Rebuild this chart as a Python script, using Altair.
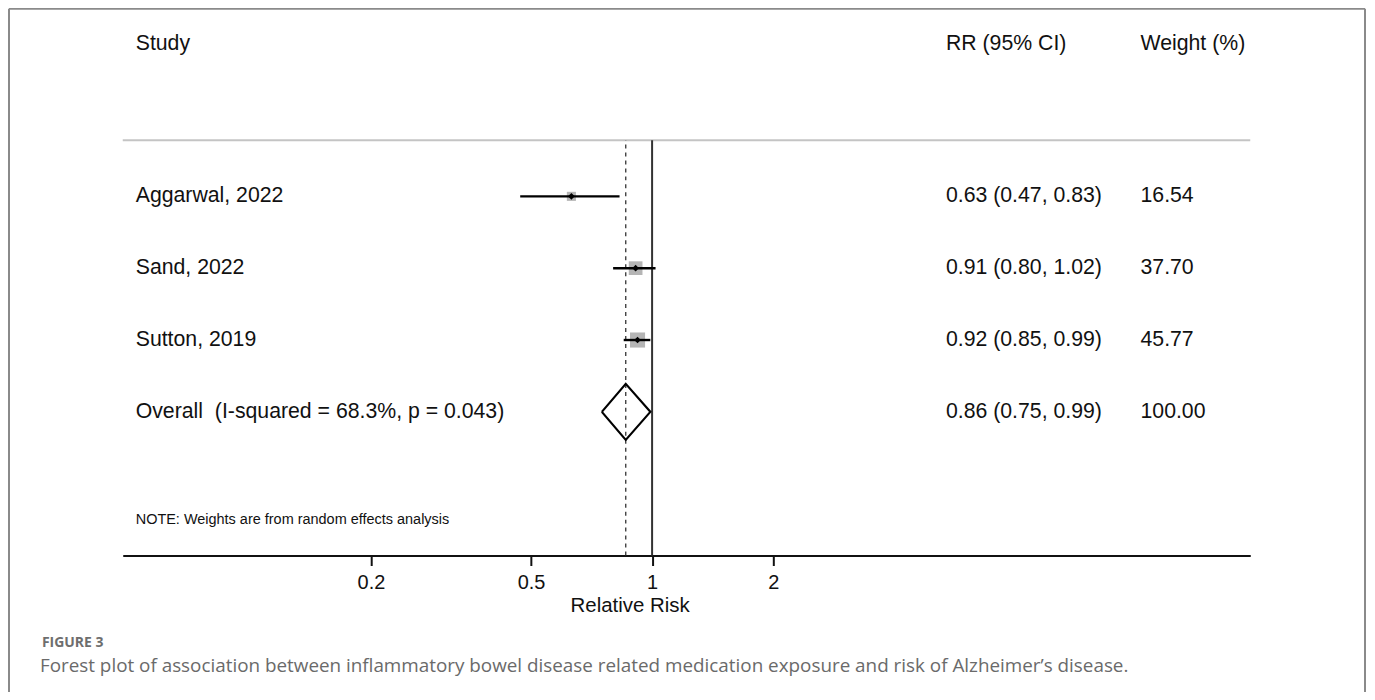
import altair as alt
import pandas as pd

# ---- data ----
studies = ["Aggarwal, 2022", "Sand, 2022", "Sutton, 2019"]
rr = [0.63, 0.91, 0.92]
ci_lo = [0.47, 0.80, 0.85]
ci_hi = [0.83, 1.02, 0.99]
weights = [16.54, 37.70, 45.77]
rows = [5, 4, 3]

overall_label = "Overall\u00a0 (I-squared = 68.3%, p = 0.043)"
overall_rr, overall_lo, overall_hi, overall_w = 0.86, 0.75, 0.99, 100.00
overall_row = 2

tick_values = [0.2, 0.5, 1, 2]
headers = ["Study", "RR (95% CI)", "Weight (%)"]
note = "NOTE: Weights are from random effects analysis"
fig_label = "FIGURE 3"
caption = ("Forest plot of association between inflammatory bowel disease related "
           "medication exposure and risk of Alzheimer\u2019s disease.")

# ---- layout ----
W, H = 1130, 540
TOP_LINE = 5.78
NOTE_ROW = 0.5
DIAMOND_HALF = 0.39
FONT = "Liberation Sans"
FS = 21.3
COL_STUDY, COL_RR, COL_W = 13, 825, 1020

xscale = alt.Scale(type="log", domain=[0.0483, 30.7], nice=False)
yscale = alt.Scale(domain=[0, 7.5], nice=False, zero=False)
xaxis = alt.Axis(values=tick_values, format="~g", grid=False,
                 labelFont=FONT, labelFontSize=20, labelColor="#111111",
                 labelPadding=7, labelFlush=False,
                 tickSize=10, tickWidth=2, tickColor="#111111",
                 domainColor="#111111", domainWidth=2,
                 titleFont=FONT, titleFontSize=20.5, titleFontWeight="normal",
                 titleColor="#111111", titleX=508, titleY=40,
                 titleAlign="center", titleBaseline="top")


def X(field):
    return alt.X(field, type="quantitative", scale=xscale, axis=xaxis,
                 title="Relative Risk")


def Y(field):
    return alt.Y(field, type="quantitative", scale=yscale, axis=None)


df = pd.DataFrame({
    "study": studies, "rr": rr, "lo": ci_lo, "hi": ci_hi,
    "w": weights, "row": rows,
})
df["rr_text"] = [f"{a:.2f} ({b:.2f}, {c:.2f})" for a, b, c in zip(rr, ci_lo, ci_hi)]
df["w_text"] = [f"{w:.2f}" for w in weights]

ov = pd.DataFrame({
    "study": [overall_label], "row": [overall_row],
    "rr_text": [f"{overall_rr:.2f} ({overall_lo:.2f}, {overall_hi:.2f})"],
    "w_text": [f"{overall_w:.2f}"],
})
labels_df = pd.concat([df[["study", "row", "rr_text", "w_text"]], ov], ignore_index=True)

diamond = pd.DataFrame({
    "x": [overall_lo, overall_rr, overall_hi, overall_rr, overall_lo],
    "y": [overall_row, overall_row + DIAMOND_HALF, overall_row,
          overall_row - DIAMOND_HALF, overall_row],
    "o": [0, 1, 2, 3, 4],
})

refs = pd.DataFrame({"x": [1.0], "y0": [0], "y1": [TOP_LINE]})
dash = pd.DataFrame({"x": [overall_rr], "y0": [0], "y1": [TOP_LINE]})
top_line = pd.DataFrame({"y": [TOP_LINE]})

layers = []

# top gray separator
layers.append(alt.Chart(top_line).mark_rule(color="#c4c4c4", strokeWidth=2).encode(
    x=alt.value(0), x2=alt.value(W), y=Y("y")))

# null line and overall dashed line
layers.append(alt.Chart(refs).mark_rule(color="#333333", strokeWidth=2).encode(
    x=X("x"), y=Y("y0"), y2="y1"))
layers.append(alt.Chart(dash).mark_rule(color="#333333", strokeWidth=1.3,
                                        strokeDash=[4, 4]).encode(
    x=X("x"), y=Y("y0"), y2="y1"))

# weight boxes
layers.append(alt.Chart(df).mark_square(color="#b5b5b5", opacity=1).encode(
    x=X("rr"), y=Y("row"),
    size=alt.Size("w:Q", scale=alt.Scale(domain=[0, 100], range=[0, 500]), legend=None)))

# CI lines
layers.append(alt.Chart(df).mark_rule(color="black", strokeWidth=2.4).encode(
    x=X("lo"), x2="hi", y=Y("row")))

# point estimates
layers.append(alt.Chart(df).mark_point(shape="diamond", filled=True, color="black",
                                       opacity=1, size=45).encode(
    x=X("rr"), y=Y("row")))

# overall diamond
layers.append(alt.Chart(diamond).mark_line(color="black", strokeWidth=2.2).encode(
    x=X("x"), y=Y("y"), order="o:Q"))

# text columns
txt = dict(align="left", baseline="middle", font=FONT, fontSize=FS, color="#111111")
layers.append(alt.Chart(labels_df).mark_text(**txt).encode(
    x=alt.value(COL_STUDY), y=Y("row"), text="study:N"))
layers.append(alt.Chart(labels_df).mark_text(**txt).encode(
    x=alt.value(COL_RR), y=Y("row"), text="rr_text:N"))
layers.append(alt.Chart(labels_df).mark_text(**txt).encode(
    x=alt.value(COL_W), y=Y("row"), text="w_text:N"))

# headers
for h, cx in zip(headers, [COL_STUDY, COL_RR, COL_W]):
    layers.append(alt.Chart(pd.DataFrame({"t": [h]})).mark_text(**txt).encode(
        x=alt.value(cx), y=alt.value(27), text="t:N"))

# note
layers.append(alt.Chart(pd.DataFrame({"t": [note], "row": [NOTE_ROW]})).mark_text(
    align="left", baseline="middle", font=FONT, fontSize=14.5, color="#111111").encode(
    x=alt.value(COL_STUDY), y=Y("row"), text="t:N"))

# caption
layers.append(alt.Chart(pd.DataFrame({"t": [fig_label]})).mark_text(
    align="left", baseline="middle", font="Open Sans", fontSize=14, fontWeight="bold",
    color="#6e6e6e").encode(x=alt.value(-81), y=alt.value(628), text="t:N"))
layers.append(alt.Chart(pd.DataFrame({"t": [caption]})).mark_text(
    align="left", baseline="middle", font="Open Sans", fontSize=18.9,
    color="#6a6a6a").encode(x=alt.value(-83), y=alt.value(651), text="t:N"))

# frame
frame_c = "#8a8a8a"
layers.append(alt.Chart(pd.DataFrame({"a": [0]})).mark_rule(color=frame_c, strokeWidth=2).encode(
    x=alt.value(-114), y=alt.value(-8), y2=alt.value(H + 140)))
layers.append(alt.Chart(pd.DataFrame({"a": [0]})).mark_rule(color=frame_c, strokeWidth=2).encode(
    x=alt.value(1245), y=alt.value(-8), y2=alt.value(H + 140)))
layers.append(alt.Chart(pd.DataFrame({"a": [0]})).mark_rule(color=frame_c, strokeWidth=2).encode(
    x=alt.value(-114), x2=alt.value(1245), y=alt.value(-8)))

chart = alt.layer(*layers).properties(
    width=W, height=H,
    background="white",
    autosize=alt.AutoSizeParams(type="none"),
    padding={"left": 115, "top": 8, "right": 117, "bottom": 136},
).configure_view(strokeWidth=0, stroke="transparent")

chart.save("out.html", embed_options={"renderer": "svg", "actions": False})
